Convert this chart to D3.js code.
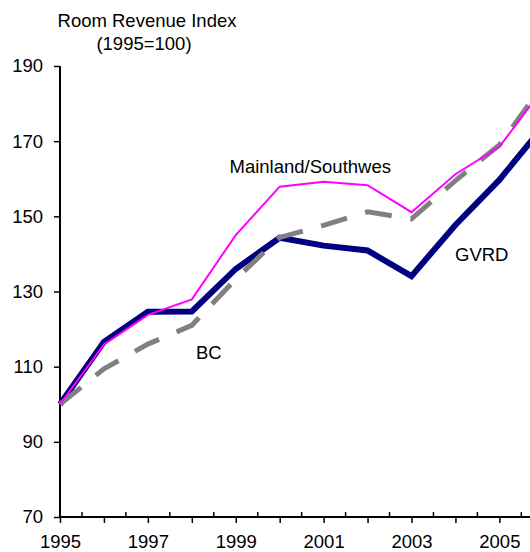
<!DOCTYPE html>
<head>
    <title>Room Revenue Index</title>
    <script src="https://cdn.jsdelivr.net/npm/d3@7"></script>
    <style>
        body { margin: 0; background: #fff; }
        svg { display: block; font-family: "Liberation Sans", Arial, sans-serif; }
    </style>
</head>
<body>

<div id="container"></div>

<script>

// Données
const years = [1995, 1996, 1997, 1998, 1999, 2000, 2001, 2002, 2003, 2004, 2005, 2006];
const gvrd = [100, 116.6, 124.6, 124.7, 136, 144.3, 142.2, 140.9, 134.1, 147.7, 159.7, 174];
const mainland = [100, 115.9, 123.8, 127.9, 145, 157.9, 159.2, 158.3, 151.1, 161.2, 168.5, 184];
const bc = [100, 109.4, 116, 121, 133.3, 144.4, 147.6, 151.2, 149.3, 159.5, 169, 185];
const yTicks = [70, 90, 110, 130, 150, 170, 190];
const xLabels = [1995, 1997, 1999, 2001, 2003, 2005];

const width = 530;
const height = 552;

const svg = d3.create("svg")
    .attr("width", width)
    .attr("height", height);

const x = d3.scaleLinear().domain([1995, 2006]).range([60, 543.3]);
const y = d3.scaleLinear().domain([70, 190]).range([517, 66]);

// Axe Y
const yAxis = svg.append("g")
    .attr("transform", "translate(60,0)")
    .call(d3.axisLeft(y).tickValues(yTicks).tickSize(6).tickPadding(11).tickFormat(d3.format("d")));
yAxis.select(".domain").attr("d", `M0,${y(190)}V${y(70)}`).attr("stroke-width", 2);
yAxis.selectAll(".tick line").attr("stroke-width", 1.5);
yAxis.selectAll("text").attr("font-size", 18.5).attr("font-family", "Liberation Sans, Arial, sans-serif").attr("fill", "#000");

// Axe X : grandes graduations (années) vers le bas, petites (demi-années) vers le haut
const xAxis = svg.append("g")
    .attr("transform", `translate(0,${y(70)})`)
    .call(d3.axisBottom(x).tickValues(years).tickSize(6).tickFormat(d => xLabels.includes(d) ? d : ""));
xAxis.select(".domain").attr("d", `M60,0H${width}`).attr("stroke-width", 2);
xAxis.selectAll(".tick line").attr("stroke-width", 1.5);
xAxis.selectAll("text")
    .attr("font-size", 18.5)
    .attr("font-family", "Liberation Sans, Arial, sans-serif")
    .attr("fill", "#000")
    .attr("dy", null)
    .attr("y", 31);

svg.append("g")
    .selectAll("line")
    .data(years.map(d => d + 0.5))
    .join("line")
    .attr("x1", d => x(d)).attr("x2", d => x(d))
    .attr("y1", y(70)).attr("y2", y(70) - 5)
    .attr("stroke", "#000")
    .attr("stroke-width", 1.5);

// Lignes
const line = d3.line()
    .x((d, i) => x(years[i]))
    .y(d => y(d));

svg.append("path")
    .datum(gvrd)
    .attr("d", line)
    .attr("fill", "none")
    .attr("stroke", "#000080")
    .attr("stroke-width", 6)
    .attr("stroke-linejoin", "miter");

svg.append("path")
    .datum(bc)
    .attr("d", line)
    .attr("fill", "none")
    .attr("stroke", "#808080")
    .attr("stroke-width", 5)
    .attr("stroke-dasharray", "27,19");

svg.append("path")
    .datum(mainland)
    .attr("d", line)
    .attr("fill", "none")
    .attr("stroke", "#ff00ff")
    .attr("stroke-width", 2);

// Titre
const title = svg.append("g")
    .attr("font-size", 18.5)
    .attr("text-anchor", "middle");
title.append("text").attr("x", 147).attr("y", 26.5).text("Room Revenue Index");
title.append("text").attr("x", 144).attr("y", 50).text("(1995=100)");

// Étiquettes des séries
svg.append("text").attr("x", 229.5).attr("y", 173).attr("font-size", 18.5).text("Mainland/Southwes");
svg.append("text").attr("x", 455).attr("y", 261).attr("font-size", 18.5).text("GVRD");
svg.append("text").attr("x", 196).attr("y", 359).attr("font-size", 18.5).text("BC");

container.append(svg.node());

</script>

</body>
